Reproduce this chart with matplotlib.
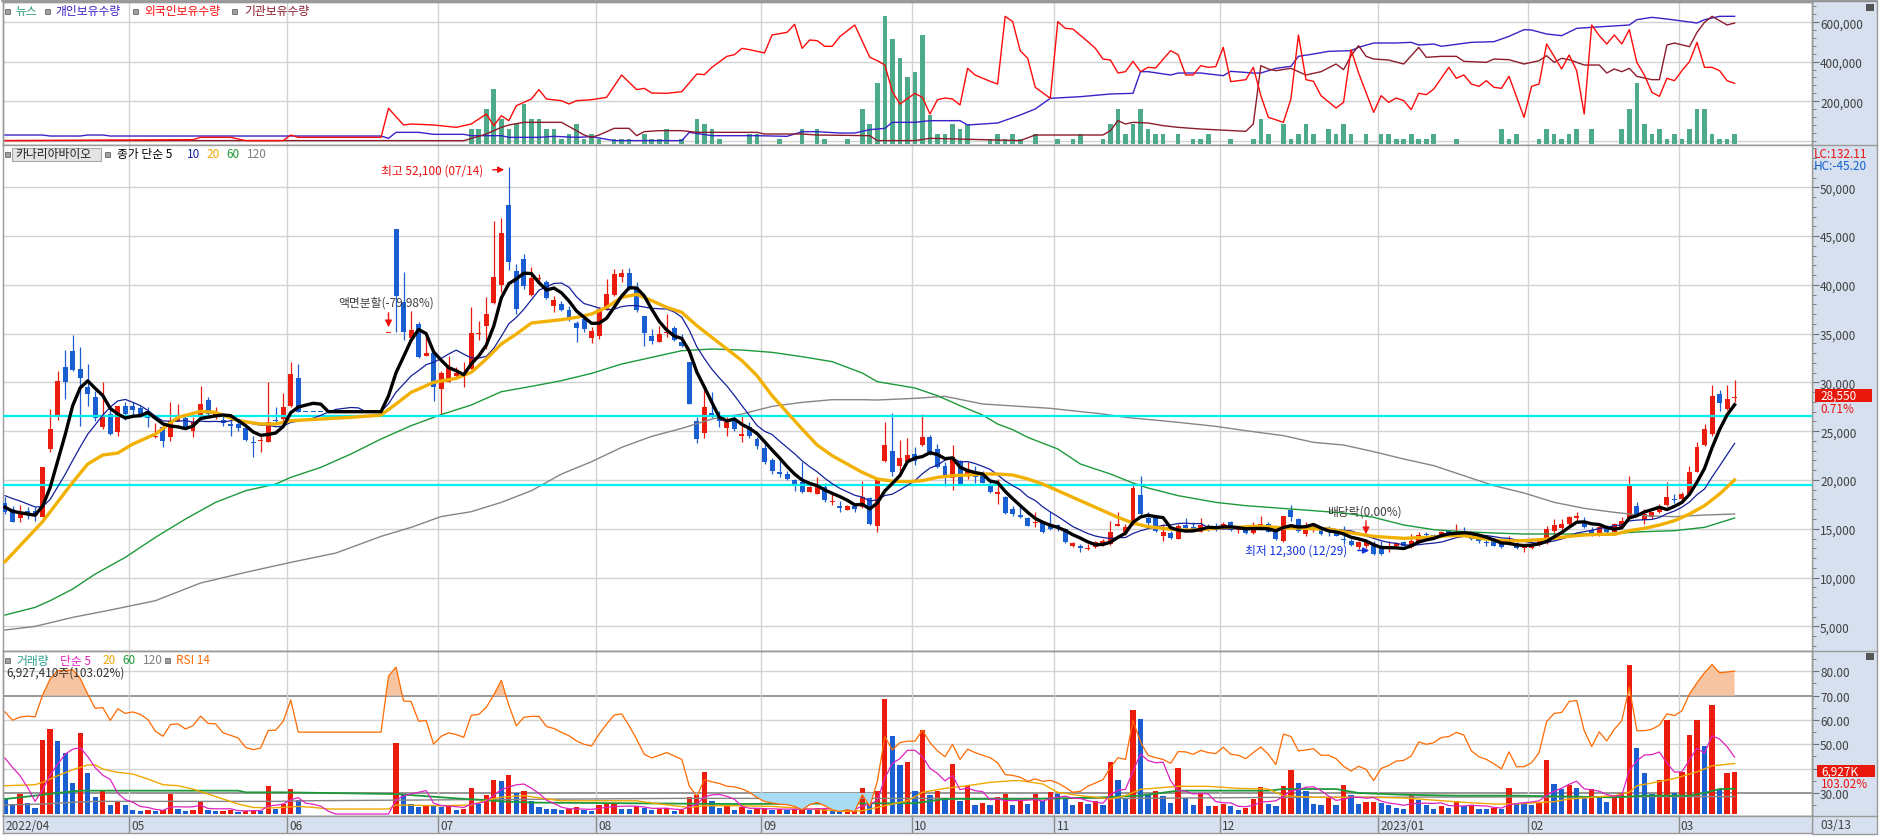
import numpy as np
import pandas as pd
import matplotlib
matplotlib.use("Agg")
import matplotlib.pyplot as plt
from matplotlib.patches import Rectangle, FancyArrowPatch
from matplotlib.ticker import FuncFormatter, MultipleLocator
from matplotlib.transforms import blended_transform_factory

plt.rcParams['font.family'] = ['Noto Sans CJK KR', 'DejaVu Sans']

# ---------------------------------------------------------------
# 카나리아바이오 일봉 2022/04 ~ 2023/03/13 (한 줄 = 10거래일)
# 40~50번째 봉은 매매정지 구간 (직전 종가 유지)
opens = [
    17640, 17020, 16070, 16850, 16850, 16170, 23170, 26420, 31550, 33250,
    31370, 29560, 28470, 25400, 26760, 24950, 27550, 27620, 27380, 27030,
    24370, 25400, 24370, 26080, 26320, 25050, 26690, 28230, 26590, 26180,
    25740, 25740, 25290, 23920, 23990, 23920, 26180, 26250, 27620, 30420,
    27000, 27000, 27000, 27000, 27000, 27000, 27000, 27000, 27000, 27000,
    27000, 35100, 45720, 38210, 34520, 35990, 32670, 33010, 29330, 30080,
    30690, 30690, 31370, 35000, 35820, 38140, 39980, 48190, 41390, 42650,
    38960, 40600, 40330, 37860, 38040, 37460, 36090, 36500, 34520, 34790,
    37520, 38960, 40770, 41220, 39740, 36840, 34720, 34180, 35100, 35540,
    34180, 32120, 26080, 24810, 26830, 26490, 25290, 26080, 24470, 25400,
    24200, 23240, 22050, 20850, 20610, 19990, 19760, 18800, 18560, 19240,
    17770, 17360, 16950, 17360, 17190, 18120, 15310, 21980, 23000, 21470,
    21880, 22660, 23590, 24370, 23180, 21470, 20170, 21910, 20370, 20780,
    20510, 19520, 18560, 18220, 17020, 16410, 16100, 15620, 15660, 15490,
    15380, 14970, 13200, 13270, 12990, 13100, 13440, 13440, 15320, 14700,
    15490, 18460, 16070, 16070, 14290, 14530, 13950, 15380, 15150, 14700,
    15150, 15150, 15150, 15660, 14910, 15150, 14560, 15040, 15490, 14800,
    13780, 16960, 16000, 14460, 14910, 14910, 14800, 14700, 13920, 13710,
    13100, 13270, 13440, 13100, 12920, 13200, 13680, 13100, 13610, 14410,
    14360, 14220, 14700, 14460, 14800, 14630, 13850, 13610, 13780, 13440,
    13440, 13540, 12990, 12990, 13330, 13540, 14800, 15040, 15490, 16070,
    15830, 14870, 14290, 15150, 14700, 15150, 16070, 17370, 15930, 16170,
    16680, 17430, 18050, 18050, 18560, 20850, 23590, 24710, 28810, 27280,
    28440,
]
highs = [
    18220, 17360, 17430, 17190, 17190, 21290, 27270, 31200, 33320, 34860,
    33600, 31890, 29150, 30010, 27620, 27550, 27960, 27960, 27620, 27450,
    25840, 25740, 28030, 27790, 26590, 26420, 29670, 28470, 27450, 26760,
    26760, 26250, 25740, 24470, 24470, 30010, 27450, 28910, 32120, 31890,
    27000, 27000, 27000, 27000, 27000, 27000, 27000, 27000, 27000, 27000,
    27000, 35100, 45720, 41280, 37350, 36160, 34960, 33010, 31200, 32670,
    31550, 32060, 37700, 36330, 38720, 46580, 46820, 52100, 42140, 43160,
    41800, 41110, 40500, 38820, 38380, 37870, 36330, 36670, 35640, 37690,
    40600, 41620, 41620, 41730, 40260, 36840, 35470, 35820, 37010, 35740,
    34960, 32120, 26420, 29600, 28980, 27100, 26420, 26490, 26590, 25970,
    24370, 23860, 22220, 22320, 20950, 20100, 21870, 19410, 20270, 19680,
    18730, 17870, 17430, 17600, 19930, 18220, 20170, 25980, 26870, 24130,
    24270, 23350, 26760, 24610, 23690, 21810, 23590, 22080, 21880, 21470,
    20950, 20100, 20100, 18320, 17370, 17300, 16240, 16750, 15830, 16680,
    15490, 15040, 13610, 13440, 13440, 13780, 13950, 15830, 16750, 15490,
    19690, 20440, 16680, 16340, 15490, 14800, 15490, 16070, 15730, 16070,
    15490, 15590, 15660, 15830, 15250, 15380, 15730, 16340, 15660, 15150,
    16340, 17430, 16070, 15660, 15380, 15250, 15320, 14970, 15320, 13950,
    13780, 13780, 13780, 13780, 13780, 13680, 13780, 14460, 14700, 14630,
    14460, 14800, 14800, 15490, 15150, 14700, 14020, 13880, 13950, 13540,
    14290, 13680, 13270, 13540, 13950, 15320, 16000, 16000, 16270, 16750,
    16170, 15150, 15320, 15380, 15590, 16170, 20370, 17780, 17020, 16680,
    17540, 19830, 18560, 18730, 21470, 23860, 25740, 29740, 29260, 29740,
    30280,
]
lows = [
    16510, 15660, 15660, 16000, 15830, 16170, 22900, 26180, 28300, 31210,
    25500, 27620, 26080, 25220, 24610, 24540, 26180, 26590, 26420, 25400,
    24270, 23340, 24030, 26080, 25220, 24370, 26590, 26590, 26250, 25570,
    24470, 25050, 24030, 22320, 22900, 23920, 25970, 25970, 27450, 26930,
    27000, 27000, 27000, 27000, 27000, 27000, 27000, 27000, 27000, 27000,
    27000, 35100, 35130, 34380, 34520, 32470, 32670, 28130, 26760, 30010,
    30350, 29500, 31370, 34380, 33420, 38040, 39230, 41560, 37010, 39570,
    38890, 40260, 38550, 37180, 37350, 36330, 34110, 35130, 34040, 34450,
    37450, 38890, 40260, 39500, 37250, 33700, 33940, 34110, 34620, 34280,
    33600, 27790, 23790, 24270, 26320, 25400, 24470, 25050, 23860, 24270,
    23170, 21640, 20610, 20270, 20030, 18900, 18630, 18730, 18560, 17770,
    17430, 16750, 16950, 16750, 17090, 15380, 14700, 21880, 20440, 20440,
    21810, 21570, 23450, 22560, 21190, 19420, 19010, 19480, 20100, 19690,
    19690, 18670, 17540, 16510, 16340, 16070, 15250, 15150, 14560, 14910,
    14800, 13540, 13100, 12580, 12860, 12990, 13200, 13330, 15250, 14360,
    15380, 16410, 15380, 14700, 13780, 13950, 13950, 14910, 14800, 14630,
    14800, 14800, 14970, 14800, 14560, 14460, 14460, 14910, 14630, 13880,
    13610, 15830, 14700, 14290, 14700, 14360, 14220, 14220, 13440, 13200,
    12920, 12990, 12300, 12310, 12650, 13100, 13200, 12990, 13540, 14020,
    14220, 14120, 14460, 14360, 14560, 13880, 13540, 13270, 13200, 12990,
    13330, 12920, 12580, 12920, 13270, 13440, 14460, 14970, 15380, 15830,
    15040, 14290, 14220, 14560, 14630, 15040, 16000, 16270, 15490, 16000,
    16610, 17370, 17640, 17880, 18460, 20780, 23520, 24540, 27110, 27210,
    28030,
]
closes = [
    16680, 15660, 16680, 16510, 16410, 21290, 25220, 30180, 30080, 31310,
    30420, 28810, 26320, 26420, 24710, 27550, 26760, 27200, 26760, 26320,
    24540, 23960, 26080, 26320, 25400, 25910, 27790, 26760, 27000, 25840,
    25570, 25290, 24130, 23790, 24130, 25970, 26080, 27450, 30860, 27000,
    27000, 27000, 27000, 27000, 27000, 27000, 27000, 27000, 27000, 27000,
    27000, 35100, 38890, 35200, 35370, 32570, 33010, 29500, 30960, 31550,
    30960, 30960, 35060, 35060, 37010, 40840, 45320, 42380, 37520, 39920,
    40670, 40670, 38620, 38480, 37460, 36500, 35540, 35470, 35300, 37520,
    39060, 41110, 41220, 39570, 37420, 35030, 34280, 34960, 35130, 34380,
    33770, 27790, 24200, 27510, 26490, 26080, 25970, 25220, 24710, 24470,
    23450, 21810, 20950, 20610, 20100, 19580, 18730, 19240, 19410, 17940,
    17840, 17090, 17360, 17020, 18220, 15490, 20100, 23580, 20850, 22250,
    22560, 21980, 24370, 22830, 21300, 20440, 22390, 19590, 21130, 20270,
    19690, 18800, 18800, 16610, 16510, 16170, 15320, 15660, 14700, 14970,
    15040, 13680, 13540, 12990, 13030, 13610, 13780, 14700, 15490, 15150,
    19180, 16510, 15590, 14800, 14630, 14020, 15320, 15040, 14910, 15380,
    15110, 15110, 15450, 14910, 14970, 14530, 15250, 15490, 14700, 13950,
    16270, 16170, 14800, 14910, 15040, 14460, 14700, 14290, 13850, 13370,
    13610, 13610, 12410, 12410, 13270, 13510, 13270, 13780, 14360, 14360,
    14290, 14700, 14630, 14700, 14630, 13950, 13850, 13540, 13270, 13100,
    13780, 12990, 13270, 13440, 13780, 14970, 15380, 15490, 16170, 16340,
    15150, 14360, 15150, 14630, 15490, 15830, 19420, 16340, 16510, 16680,
    17090, 18220, 17980, 18560, 20780, 23350, 25230, 28570, 27860, 28350,
    28550,
]
# closes before the first visible day (estimated from the MA5/MA10 start levels)
pre_close = [18600, 19200, 19600, 19400, 21000, 17800, 17400, 17200, 17000]

# volume in millions of shares
volume = [
    2.66, 1.66, 3.32, 1.83, 1.0, 12.3, 14.1, 12.1, 10.2, 5.15,
    13.5, 6.8, 2.8, 4.0, 1.55, 2.05, 1.5, 0.66, 0.5, 0.72,
    0.5, 0.66, 3.32, 0.83, 0.5, 0.66, 2.0, 0.66, 0.5, 0.53,
    0.66, 0.39, 0.55, 0.66, 0.55, 4.65, 0.83, 1.66, 4.15, 2.33,
    0, 0, 0, 0, 0, 0, 0, 0, 0, 0,
    0, 0, 11.8, 3.32, 1.66, 1.22, 1.5, 1.38, 1.22, 1.27,
    0.72, 0.83, 4.32, 1.66, 3.16, 5.65, 5.48, 6.48, 3.49, 3.82,
    2.16, 1.22, 0.83, 0.8, 0.66, 0.83, 1.16, 0.66, 0.55, 1.55,
    1.6, 1.83, 0.83, 0.8, 1.38, 1.05, 0.66, 0.83, 0.94, 0.55,
    0.66, 2.9, 3.1, 7.03, 2.2, 1.0, 1.38, 0.66, 1.1, 0.66,
    0.94, 1.0, 0.66, 0.83, 0.66, 0.83, 1.1, 0.66, 0.94, 1.05,
    0.66, 0.5, 0.61, 0.72, 4.26, 1.83, 3.88, 19.1, 13.0, 8.2,
    8.7, 3.88, 14.0, 3.2, 3.88, 2.6, 8.3, 2.2, 4.7, 1.55,
    1.88, 1.5, 2.88, 3.32, 1.55, 2.1, 1.66, 3.32, 2.1, 3.6,
    3.32, 2.49, 1.55, 1.94, 1.72, 2.2, 1.55, 8.6, 5.65, 2.49,
    17.3, 15.8, 3.16, 3.82, 3.0, 1.83, 7.64, 2.66, 1.5, 3.49,
    1.33, 1.35, 1.72, 1.33, 0.66, 1.0, 2.49, 4.49, 1.66, 1.33,
    4.65, 7.3, 5.15, 3.82, 1.66, 1.5, 2.82, 1.5, 4.8, 3.16,
    1.66, 2.0, 2.05, 1.83, 1.5, 1.0, 0.83, 3.32, 2.33, 1.5,
    0.83, 1.33, 1.0, 2.16, 1.33, 1.5, 0.83, 0.8, 1.0, 0.83,
    4.32, 1.66, 1.6, 1.55, 1.83, 8.97, 4.98, 4.15, 4.8, 4.32,
    2.66, 4.15, 3.0, 2.0, 3.0, 3.49, 24.75, 10.96, 6.8, 3.32,
    5.65, 15.6, 3.49, 6.98, 13.1, 15.6, 11.3, 18.1, 4.15, 6.8,
    6.927,
]
pre_volume = [9.4, 10.2, 11.5, 12.7]

rsi14 = [
    63.3, 59.9, 61.2, 61.6, 61.3, 70.2, 76.8, 80.3, 80.3, 80.7,
    77.1, 70.6, 64.8, 65.1, 59.8, 64.6, 62.7, 63.3, 62.3, 60.2,
    55.4, 53.3, 58.1, 58.4, 56.3, 57.7, 61.6, 58.6, 58.4, 54.7,
    53.7, 52.6, 48.7, 47.8, 48.5, 55.7, 55.8, 59.5, 68.2, 55.0,
    55.0, 55.0, 55.0, 55.0, 55.0, 55.0, 55.0, 55.0, 55.0, 55.0,
    55.0, 78.0, 81.7, 67.8, 67.6, 59.5, 59.8, 50.1, 53.3, 54.7,
    54.0, 52.9, 61.9, 62.3, 65.2, 70.3, 76.3, 66.0, 57.6, 61.1,
    61.5, 61.5, 57.3, 56.5, 54.9, 53.5, 51.4, 50.0, 49.3, 54.2,
    58.3, 62.0, 62.5, 57.6, 52.1, 45.9, 44.4, 45.5, 46.6, 45.2,
    43.8, 32.8, 28.7, 35.5, 34.6, 33.9, 32.8, 32.5, 31.7, 30.3,
    28.2, 26.5, 25.9, 25.4, 25.2, 24.5, 23.1, 25.2, 26.1, 24.8,
    23.1, 22.4, 23.1, 22.4, 29.3, 24.5, 34.8, 53.2, 47.7, 50.7,
    51.3, 51.3, 55.8, 50.7, 47.3, 44.9, 50.0, 43.8, 48.0, 46.6,
    45.5, 44.5, 42.4, 37.6, 37.2, 36.5, 34.8, 35.8, 34.8, 35.2,
    34.1, 32.3, 30.3, 30.7, 32.8, 34.1, 35.5, 40.4, 44.5, 43.8,
    59.7, 51.0, 45.5, 44.5, 43.8, 42.2, 47.0, 46.9, 45.9, 47.5,
    46.6, 46.2, 48.8, 45.9, 45.5, 44.1, 46.6, 48.9, 45.9, 41.7,
    54.2, 53.2, 47.3, 47.7, 48.2, 45.5, 45.5, 44.1, 41.0, 39.0,
    41.0, 39.7, 35.1, 40.1, 41.3, 43.1, 43.4, 45.2, 51.0, 50.0,
    50.7, 52.8, 53.2, 54.9, 53.8, 47.3, 44.9, 43.8, 42.0, 39.9,
    46.9, 40.8, 40.8, 42.4, 46.6, 59.3, 62.7, 63.1, 67.6, 68.0,
    55.6, 49.1, 55.1, 51.4, 56.2, 59.7, 73.5, 55.6, 55.6, 56.2,
    57.9, 62.5, 61.8, 63.8, 70.7, 75.3, 79.4, 82.8, 79.4, 79.7,
    80.1,
]

# longer price averages (bar index, price)
ma20_idx = [0, 5, 9, 11, 13, 15, 17, 20, 23, 26, 28, 31, 34, 36, 38, 42, 46, 50, 52, 54,
            57, 60, 62, 64, 66, 68, 70, 72, 74, 76, 78, 80, 82, 84, 86, 88, 90, 92, 94, 96,
            98, 100, 102, 104, 106, 108, 110, 112, 114, 116, 118, 120, 122, 124, 126, 128,
            130, 132, 134, 136, 138, 140, 142, 144, 146, 148, 150, 152, 154, 156, 158, 160,
            162, 164, 166, 168, 170, 172, 174, 176, 178, 180, 182, 184, 186, 188, 190, 192,
            194, 196, 198, 200, 202, 204, 206, 208, 210, 212, 214, 216, 218, 220, 222, 224,
            226, 228, 230]
ma20_val = [11625, 15725, 19756, 21635, 22557, 22762, 23685, 24710, 26418, 27034, 26931,
            26077, 25736, 25736, 26077, 26248, 26418, 26657, 27785, 28980, 30007, 30416,
            31031, 32399, 33936, 34961, 36089, 36260, 36431, 36670, 37012, 37695, 38720,
            39028, 38379, 37695, 37183, 35816, 34620, 33424, 32228, 30690, 28640, 26931,
            25222, 23582, 22489, 21635, 20780, 20097, 19880, 19826, 19929, 20270, 20441,
            20510, 20612, 20612, 20510, 20100, 19587, 18904, 18220, 17537, 16853, 16170,
            15589, 15213, 15042, 14871, 14871, 14974, 15145, 15145, 15247, 15213, 15076,
            15076, 15000, 14974, 14700, 14461, 14222, 14120, 14017, 14085, 14153, 14290,
            14290, 14051, 13847, 13744, 13779, 13881, 14017, 14222, 14358, 14427, 14427,
            14803, 15042, 15384, 15828, 16511, 17366, 18562, 19997]
ma60_idx = [0, 4, 6, 9, 12, 16, 20, 24, 28, 32, 36, 38, 42, 46, 50, 54, 58, 62, 66, 70,
            74, 78, 82, 86, 90, 94, 98, 102, 106, 110, 114, 116, 121, 124, 127, 130, 132,
            134, 136, 140, 143, 147, 150, 152, 156, 161, 165, 174, 178, 182, 186, 190, 194,
            198, 202, 206, 210, 214, 218, 222, 226, 230]
ma60_val = [6157, 6942, 7625, 8822, 10359, 12068, 14118, 15997, 17705, 18901, 19585, 20268,
            21293, 22660, 24198, 25565, 26700, 27683, 29049, 29596, 30177, 30929, 31886,
            32569, 33253, 33424, 33321, 33082, 32638, 32125, 30963, 30077, 29428, 28642,
            27617, 26660, 25737, 25157, 24371, 23175, 21637, 20612, 19689, 19177, 18391,
            17708, 17366, 16854, 16614, 16170, 15384, 14906, 14700, 14564, 14461, 14461,
            14461, 14530, 14700, 14803, 15145, 16102]
ma120_idx = [0, 4, 9, 14, 20, 26, 32, 38, 44, 50, 54, 58, 62, 66, 70, 74, 78, 82, 86, 90,
             94, 98, 102, 106, 110, 114, 116, 121, 125, 130, 139, 146, 149, 156, 161, 165,
             170, 174, 178, 182, 186, 190, 194, 198, 202, 206, 210, 214, 218, 222, 226, 230]
ma120_val = [4619, 4994, 5917, 6668, 7625, 9436, 10530, 11555, 12511, 14220, 15143, 16250,
             16750, 17705, 18901, 20610, 21874, 23344, 24471, 25291, 26248, 26760, 27546,
             27956, 28230, 28230, 28198, 28369, 28574, 27788, 27344, 26763, 26422, 25909,
             25499, 25054, 24542, 23858, 23585, 22902, 22150, 21467, 20441, 19416, 18665,
             17708, 17093, 16683, 16341, 16238, 16409, 16512]

# volume averages (bar index, millions)
vma20_idx = [0, 4, 5, 7, 9, 11, 12, 13, 15, 17, 19, 21, 23, 25, 27, 29, 31, 33, 35, 37,
             39, 41, 43, 51, 52, 58, 62, 64, 66, 69, 72, 74, 84, 86, 89, 91, 93, 97, 102,
             106, 109, 112, 114, 117, 120, 122, 125, 128, 131, 134, 135, 138, 140, 143, 147,
             149, 151, 156, 160, 164, 168, 170, 174, 182, 186, 189, 194, 198, 201, 203, 206,
             208, 211, 214, 216, 217, 219, 222, 225, 227, 230]
vma20_val = [4.7, 4.87, 5.26, 6.37, 7.36, 8.14, 8.14, 7.47, 6.92, 6.64, 5.81, 4.87, 4.7,
             4.15, 3.32, 2.49, 1.66, 1.1, 1.0, 1.1, 1.27, 1.1, 0.83, 0.83, 1.5, 1.38, 1.5,
             2.3, 2.8, 3.05, 2.5, 2.2, 2.2, 1.83, 1.38, 1.1, 1.38, 1.38, 1.27, 0.94, 0.66,
             0.44, 0.55, 1.38, 2.2, 3.6, 4.26, 4.7, 5.26, 5.54, 5.54, 4.98, 3.6, 3.05, 2.5,
             3.05, 4.1, 4.6, 4.6, 4.26, 4.15, 3.05, 2.77, 2.77, 2.66, 2.4, 1.94, 1.66, 1.66,
             1.83, 2.05, 2.5, 2.77, 3.05, 3.6, 4.7, 5.15, 5.9, 7.0, 8.0, 8.4]
vma60_idx = [0, 4, 7, 10, 31, 32, 37, 52, 55, 60, 64, 66, 70, 97, 121, 125, 137, 146, 151,
             156, 168, 170, 177, 180, 186, 193, 201, 208, 214, 218, 224, 226, 228, 230]
vma60_val = [2.49, 3.05, 3.49, 3.88, 3.88, 3.6, 3.6, 3.32, 3.05, 2.6, 2.3, 2.1, 1.9, 1.66,
             1.8, 2.5, 2.5, 2.77, 3.05, 3.88, 3.88, 4.15, 4.15, 3.49, 3.2, 3.05, 3.05, 2.9,
             2.77, 3.05, 3.05, 3.49, 4.15, 4.2]
vma120_idx = [0, 5, 9, 12, 36, 40, 64, 90, 150, 170, 230]
vma120_val = [1.5, 1.66, 1.94, 2.1, 2.1, 2.2, 2.4, 2.6, 2.6, 2.77, 2.9]

# top pane: news count per day and holdings (thousand shares)
news_idx = [62, 63, 64, 65, 66, 67, 68, 69, 70, 71, 72, 73, 74, 75, 76, 77, 78, 79, 81, 82,
            83, 85, 86, 87, 88, 90, 92, 93, 94, 95, 99, 100, 103, 106, 108, 109, 112, 114,
            115, 116, 117, 118, 119, 120, 121, 122, 123, 124, 125, 126, 127, 128, 131, 132,
            133, 134, 135, 137, 140, 142, 143, 146, 147, 148, 149, 150, 151, 152, 153, 154,
            156, 158, 159, 160, 163, 166, 167, 168, 170, 171, 172, 173, 174, 176, 177, 178,
            179, 181, 183, 184, 185, 186, 187, 188, 189, 190, 193, 199, 200, 201, 204, 205,
            206, 207, 208, 209, 211, 215, 216, 217, 218, 219, 220, 221, 222, 223, 224, 225,
            226, 227, 228, 229, 230]
news_cnt = [3, 3, 7, 11, 5, 3, 4, 8, 5, 5, 3, 3, 1, 2, 4, 1, 2, 1, 1, 1,
            1, 2, 1, 1, 3, 1, 5, 4, 3, 1, 2, 2, 1, 3, 3, 1, 1, 7,
            4, 12.3, 25.7, 21, 17.2, 13.5, 14.5, 21.8, 5.8, 2, 2, 4, 3, 4, 1, 2,
            1, 2, 1, 2, 1, 1, 2, 1, 4, 7, 2, 4, 7, 3, 2, 2,
            2, 1, 1, 2, 1, 1, 5, 2, 4, 1, 2, 4, 2, 3, 2, 4,
            2, 2, 2, 2, 1, 1, 2, 1, 1, 2, 1, 3, 1, 2, 1, 3,
            2, 1, 2, 3, 3, 3, 7, 12.3, 4, 2, 3, 1, 2, 1, 3,
            7, 7, 2, 1, 1, 2]

indiv_idx = [0, 5, 6, 10, 11, 13, 14, 50, 51, 52, 55, 57, 61, 62, 66, 67, 71, 73, 76, 78,
             81, 90, 91, 94, 100, 104, 106, 108, 111, 113, 115, 117, 118, 121, 123, 127, 128,
             132, 135, 137, 139, 143, 147, 150, 151, 152, 155, 156, 159, 162, 163, 166, 167,
             169, 171, 172, 174, 176, 179, 180, 182, 185, 187, 188, 190, 191, 195, 198, 200,
             202, 203, 205, 207, 209, 211, 216, 217, 219, 221, 225, 226, 228, 230]
indiv_val = [28.8, 28.8, 23.7, 23.7, 28.8, 28.8, 23.7, 23.7, 12.0, 42.3, 42.3, 32.2, 32.2,
             25.4, 25.4, 17.0, 17.0, 22.1, 17.0, 20.4, 0.5, 0.5, 42.3, 25.4, 25.4, 22.1, 45.7,
             45.7, 38.9, 38.9, 55.9, 62.6, 93.0, 93.0, 101.4, 101.4, 79.5, 89.6, 130.1, 160.5,
             214.5, 222.9, 236.4, 239.8, 349.5, 349.5, 332.6, 342.7, 342.7, 329.2, 351.2,
             342.7, 342.7, 366.4, 376.5, 427.1, 438.9, 452.4, 455.8, 472.7, 494.6, 494.6,
             498.0, 484.5, 489.6, 477.8, 498.0, 501.4, 528.4, 562.1, 560.4, 540.2, 531.8,
             568.9, 573.9, 585.8, 612.8, 624.6, 616.2, 595.9, 612.8, 629.7, 629.7]
foreign_idx = [0, 25, 26, 30, 32, 37, 38, 39, 50, 51, 53, 54, 57, 60, 62, 64, 65, 66, 67, 68,
               70, 71, 72, 74, 75, 76, 78, 80, 82, 84, 85, 86, 88, 90, 92, 93, 94, 96, 97, 98,
               99, 101, 102, 104, 105, 106, 107, 108, 109, 110, 111, 113, 115, 116, 117, 118,
               119, 121, 122, 123, 124, 125, 126, 127, 128, 129, 131, 132, 133, 134, 135, 136,
               137, 139, 140, 141, 142, 144, 145, 146, 147, 148, 149, 150, 151, 152, 153, 155,
               156, 157, 158, 159, 160, 161, 162, 163, 165, 166, 167, 168, 170, 171, 172, 173,
               174, 175, 177, 178, 179, 180, 182, 183, 184, 185, 186, 187, 188, 189, 190, 192,
               193, 194, 195, 196, 197, 198, 199, 200, 202, 203, 204, 205, 206, 207, 208, 209,
               210, 211, 212, 213, 214, 215, 216, 217, 218, 219, 220, 221, 222, 223, 224, 225,
               226, 227, 228, 229, 230]
foreign_val = [0.5, 5.2, 17.0, 17.0, 0.5, 0.5, 28.8, 17.0, 17.0, 163.8, 79.5, 84.5, 79.5,
               67.6, 84.5, 135.1, 76.1, 126.7, 101.4, 177.3, 211.1, 258.3, 211.1, 202.6,
               185.8, 202.6, 207.7, 219.5, 332.6, 258.4, 265.1, 241.5, 239.8, 248.2, 337.7,
               334.3, 371.4, 427.1, 435.6, 467.6, 460.9, 444.0, 535.2, 548.7, 589.2, 467.6,
               509.8, 506.5, 477.8, 477.8, 526.7, 585.8, 422.1, 405.2, 383.3, 248.2, 185.8,
               239.8, 219.5, 135.2, 207.7, 216.2, 211.1, 180.8, 366.4, 332.6, 300.6, 287.1,
               629.7, 602.7, 455.8, 417.0, 270.2, 214.5, 602.7, 568.9, 565.5, 501.4, 467.6,
               413.6, 408.6, 342.8, 349.5, 401.8, 349.5, 371.4, 368.0, 455.8, 435.6, 332.6,
               332.6, 379.9, 371.4, 374.8, 472.7, 298.9, 309.0, 371.4, 228.0, 118.3, 93.0,
               211.1, 535.2, 309.0, 300.6, 228.0, 165.5, 194.2, 460.9, 342.8, 143.6, 228.0,
               194.2, 216.2, 202.7, 157.1, 239.8, 233.1, 261.7, 371.4, 315.8, 332.6, 287.1,
               275.2, 303.9, 270.2, 265.1, 325.9, 118.3, 275.2, 287.1, 489.6, 427.1, 363.0,
               433.9, 354.6, 135.2, 585.8, 531.8, 489.6, 535.2, 489.6, 562.2, 396.8, 332.6,
               244.9, 224.6, 315.8, 303.9, 354.6, 400.1, 498.0, 371.4, 371.4, 354.6, 303.9,
               290.4]
inst_idx = [0, 50, 61, 64, 66, 67, 69, 74, 76, 77, 78, 79, 81, 83, 84, 85, 87, 90, 92, 100,
            101, 106, 108, 115, 116, 121, 123, 135, 137, 146, 147, 148, 149, 150, 152, 154,
            156, 159, 165, 166, 167, 168, 169, 171, 172, 173, 175, 177, 178, 179, 180, 181,
            182, 184, 186, 188, 189, 191, 193, 194, 197, 198, 200, 202, 204, 205, 206, 207,
            208, 210, 212, 213, 214, 215, 216, 217, 219, 220, 221, 222, 224, 225, 226, 227,
            229, 230]
inst_val = [0.5, 0.5, 0.0, 33.9, 67.6, 79.5, 93.0, 93.0, 50.8, 28.8, 17.0, 28.8, 62.6, 62.6,
            25.4, 45.7, 50.8, 50.8, 42.3, 42.3, 33.9, 33.9, 28.8, 25.4, 0.5, 0.5, 12.0, 0.5,
            28.8, 28.8, 50.8, 101.4, 84.5, 93.0, 89.6, 76.1, 67.6, 59.2, 47.4, 84.5, 379.9,
            363.0, 354.5, 366.4, 349.5, 332.6, 349.5, 388.3, 359.6, 430.5, 481.1, 427.1,
            413.6, 408.5, 388.3, 472.7, 422.1, 427.1, 427.1, 401.8, 396.7, 413.6, 410.2,
            388.3, 405.2, 430.5, 396.7, 417.0, 410.2, 383.2, 383.2, 342.7, 363.0, 349.5,
            366.4, 325.8, 309.0, 309.0, 484.5, 494.6, 476.1, 548.6, 599.3, 629.7, 585.8,
            595.9]

month_labels = ['2022/04', '05', '06', '07', '08', '09', '10', '11', '12', '2023/01', '02', '03']
month_first_bar = [0, 17, 38, 58, 79, 101, 121, 140, 162, 183, 203, 223]
last_date = '03/13'

# ---------------------------------------------------------------
W, H, DPI = 1879, 837, 100
RED, BLUE = '#ec1c0c', '#1a5fd2'
GRID = '#d2d2d2'
STRIP = '#d6e0ee'

n = len(closes)
x = np.arange(n)
o, h, l, c = (np.array(v, dtype=float) for v in (opens, highs, lows, closes))
vol = np.array(volume)
rsi = np.array(rsi14)

close_s = pd.Series(pre_close + closes, dtype=float)
ma5 = close_s.rolling(5).mean().to_numpy()[len(pre_close):]
ma10 = close_s.rolling(10).mean().to_numpy()[len(pre_close):]
vol_s = pd.Series(pre_volume + volume, dtype=float)
vma5 = vol_s.rolling(5).mean().to_numpy()[len(pre_volume):]

fig = plt.figure(figsize=(W / DPI, H / DPI), dpi=DPI)
fig.patch.set_facecolor('white')


def rect(x0, y0, x1, y1):
    return [x0 / W, 1 - y1 / H, (x1 - x0) / W, (y1 - y0) / H]


def fx(px):
    return px / W


def fy(py):
    return 1 - py / H


L, R = 3, 1812
XL, XR = (L - 5) / 7.52, (R - 5) / 7.52
grid_x = [b - 0.45 for b in month_first_bar[1:]]

ax_news = fig.add_axes(rect(L, 3, R, 146))
ax_top = fig.add_axes(rect(L, 3, R, 146))
ax_main = fig.add_axes(rect(L, 146, R, 652))
ax_vol = fig.add_axes(rect(L, 652, R, 817))
ax_rsi = fig.add_axes(rect(L, 652, R, 817))
ax_x = fig.add_axes(rect(L, 817, R, 834))

for ax in (ax_top, ax_rsi):
    ax.patch.set_alpha(0)
for ax in (ax_news, ax_top, ax_main, ax_vol, ax_rsi, ax_x):
    ax.set_xlim(XL, XR)
    ax.tick_params(axis='x', bottom=False, labelbottom=False)
    for s in ax.spines.values():
        s.set_color('#9a9a9a')
        s.set_linewidth(1)
for ax in (ax_news, ax_vol, ax_x):
    ax.tick_params(axis='y', left=False, labelleft=False)

ax_top.set_ylim(-21771, 702233)
ax_news.set_ylim(-0.2, 28.4)
ax_main.set_ylim(2470, 54336)
ax_rsi.set_ylim(20.55, 88.34)
ax_vol.set_ylim(-0.33, 27.08)

for ax in (ax_top, ax_main, ax_rsi):
    ax.tick_params(axis='y', which='both', left=False, labelleft=False, right=True,
                   labelright=True, direction='out', color='#707070', labelcolor='#404040',
                   labelsize=8.5, pad=1)
    ax.tick_params(axis='y', which='major', length=4.8)
    ax.tick_params(axis='y', which='minor', length=2.9)

ax_top.set_yticks([200000, 400000, 600000])
ax_top.yaxis.set_minor_locator(MultipleLocator(40000))
ax_top.yaxis.set_major_formatter(FuncFormatter(lambda v, _: f'{int(v):,}'))
ax_main.set_yticks(range(5000, 50001, 5000))
ax_main.yaxis.set_minor_locator(MultipleLocator(1000))
ax_main.yaxis.set_major_formatter(FuncFormatter(lambda v, _: f'{int(v):,}'))
ax_rsi.set_yticks([30, 40, 50, 60, 70, 80])
ax_rsi.yaxis.set_minor_locator(MultipleLocator(5))
ax_rsi.yaxis.set_major_formatter(FuncFormatter(lambda v, _: f'{v:.2f}'))


def hgrid(ax_draw, ax_scale, levels, **kw):
    tr = blended_transform_factory(ax_draw.transAxes, ax_scale.transData)
    for lv in levels:
        ax_draw.plot([0, 1], [lv, lv], transform=tr, **kw)


# ---- top pane: news + holdings
hgrid(ax_news, ax_top, [0, 200000, 400000, 600000], color=GRID, lw=1, zorder=0)
for gx in grid_x:
    ax_news.axvline(gx, color=GRID, lw=1, zorder=0)
ax_news.bar(news_idx, news_cnt, width=0.62, color='#4dab8a', lw=0, zorder=2)
ax_top.plot(indiv_idx, np.array(indiv_val) * 1000, color='#3a22c8', lw=1)
ax_top.plot(inst_idx, np.array(inst_val) * 1000, color='#8c1c2c', lw=1)
ax_top.plot(foreign_idx, np.array(foreign_val) * 1000, color='#ff0a0a', lw=1)

# ---- main pane: candles + averages
ax_main.grid(axis='y', color=GRID, lw=1)
ax_main.set_axisbelow(True)
for gx in grid_x:
    ax_main.axvline(gx, color=GRID, lw=1, zorder=0)

prev_c = np.r_[c[0], c[:-1]]
up = (c > o) | ((c == o) & (c > prev_c))
col = np.where(up, RED, BLUE)
body_h = np.abs(c - o)
body_lo = np.minimum(o, c)
small = body_h < 110
ax_main.vlines(x, l, h, colors=col, lw=0.9, zorder=3)
ax_main.bar(x, np.where(small, 110, body_h), bottom=np.where(small, (o + c) / 2 - 55, body_lo),
            width=0.66, color=col, lw=0, zorder=3)

ax_main.plot(ma120_idx, ma120_val, color='#858585', lw=1.0, zorder=4)
ax_main.plot(ma60_idx, ma60_val, color='#1c9a3a', lw=1.0, zorder=4)
ax_main.plot(x, ma10, color='#14209c', lw=0.9, zorder=5)
ax_main.plot(ma20_idx, ma20_val, color='#f2b000', lw=2.4, zorder=5)
ax_main.plot(x, ma5, color='black', lw=2.4, zorder=6)
for lv in (26590, 19520):
    ax_main.axhline(lv, color='#00eef0', lw=1.6, zorder=4)

# ---- bottom pane: volume + RSI
hgrid(ax_vol, ax_rsi, [40, 50, 60, 80], color=GRID, lw=1, zorder=0)
hgrid(ax_vol, ax_rsi, [30, 70], color='#858585', lw=1.2, zorder=0)
for gx in grid_x:
    ax_vol.axvline(gx, color=GRID, lw=1, zorder=0)
prev_v = np.r_[pre_volume[-1], vol[:-1]]
vcol = np.where(vol > prev_v, RED, BLUE)
ax_vol.bar(x, vol, width=0.7, color=vcol, lw=0, zorder=2)
ax_vol.plot(vma120_idx, vma120_val, color='#858585', lw=1.0, zorder=3)
ax_vol.plot(vma60_idx, vma60_val, color='#1c9a3a', lw=1.3, zorder=3)
ax_vol.plot(vma20_idx, vma20_val, color='#f0a800', lw=1.0, zorder=3)
ax_vol.plot(x, vma5, color='#dd22c0', lw=0.9, zorder=3)

ax_rsi.fill_between(x, rsi, 70, where=rsi > 70, interpolate=True, color='#f6c4a0', lw=0)
ax_rsi.fill_between(x, rsi, 30, where=rsi < 30, interpolate=True, color='#a8dcf2', lw=0)
ax_rsi.plot(x, rsi, color='#ff6a00', lw=0.9)

# ---- date strip
ax_x.set_facecolor(STRIP)
ax_x.set_ylim(0, 1)
for b, lab in zip(month_first_bar, month_labels):
    if b > 0:
        ax_x.axvline(b - 0.45, color='#8a8a8a', lw=1)
    ax_x.text(max(b - 0.45, XL) + 0.3, 0.45, lab, va='center', ha='left', fontsize=8.5,
              color='#404040')

# ---- right strip and frame
fig.add_artist(Rectangle((fx(R), fy(835)), fx(1877 - R), (835 - 2) / H, transform=fig.transFigure,
                         facecolor=STRIP, edgecolor='#9a9a9a', lw=1, zorder=-1))
for yy in (146, 652, 817):
    fig.add_artist(plt.Line2D([fx(R), fx(1877)], [fy(yy), fy(yy)], color='#9a9a9a', lw=1))
fig.add_artist(plt.Line2D([fx(2), fx(1877)], [fy(2), fy(2)], color='#8a8a8a', lw=1.2))
for yy in (5, 654):
    fig.add_artist(Rectangle((fx(1866), fy(yy + 7)), fx(8), 7 / H, transform=fig.transFigure,
                             facecolor='#555555', edgecolor='none', zorder=5))
fig.text(fx(1820), fy(825.5), last_date, fontsize=8.5, color='#404040', va='center')


def ftext(px, py, s, **kw):
    kw.setdefault('fontsize', 8.5)
    fig.text(fx(px), fy(py), s, va='center', ha='left', **kw)


def square(px, py):
    fig.add_artist(Rectangle((fx(px - 2.5), fy(py + 2.5)), fx(5), 5 / H, transform=fig.transFigure,
                             facecolor='#a0a0a0', edgecolor='#6a6a6a', lw=0.6, zorder=6))


# legends
square(7, 12)
ftext(15, 12, '뉴스', color='#2e9e78')
square(47, 12)
ftext(55.5, 12, '개인보유수량', color='#3a22c8')
square(135, 12)
ftext(144.7, 12, '외국인보유수량', color='#ff0a0a')
square(234, 12)
ftext(243.8, 12, '기관보유수량', color='#8c1c2c')

square(7, 155)
fig.add_artist(Rectangle((fx(12.3), fy(161.5)), fx(88.7), 13 / H, transform=fig.transFigure,
                         facecolor='#e4e4e4', edgecolor='#a8a8a8', lw=0.8, zorder=6))
ftext(15.7, 155, '카나리아바이오', color='#202020', zorder=7)
square(107, 155)
ftext(116.7, 155, '종가 단순 5', color='black')
ftext(187.3, 155, '10', color='#14209c')
ftext(206.7, 155, '20', color='#f0a800')
ftext(226.7, 155, '60', color='#1c9a3a')
ftext(247.3, 155, '120', color='#808080')

square(7.3, 661)
ftext(16, 661, '거래량', color='#2a9d8f')
ftext(60, 661, '단순 5', color='#dd22c0')
ftext(102.3, 661, '20', color='#f0a800')
ftext(122.3, 661, '60', color='#1c9a3a')
ftext(143.3, 661, '120', color='#808080')
square(167.3, 661)
ftext(176, 661, 'RSI 14', color='#ff6a00')
ftext(6.7, 673.5, f'{int(round(volume[-1] * 1e6)):,}주(103.02%)'.replace('6,927,000', '6,927,410'),
      color='#303030')

# right-side value boxes
ftext(1814, 154, 'LC:132.11', color='#ee1010')
ftext(1814, 166, 'HC:-45.20', color='#1060d0')
fig.add_artist(Rectangle((fx(1815), fy(403)), fx(57), 13 / H, transform=fig.transFigure,
                         facecolor='#e8180c', edgecolor='none', zorder=8))
ftext(1820, 396.5, f'{closes[-1]:,}', color='white', zorder=9)
ftext(1820, 409.5, f'{(closes[-1] / closes[-2] - 1) * 100:.2f}%', color='#ee1010', zorder=9)
fig.add_artist(Rectangle((fx(1817), fy(778)), fx(58), 12 / H, transform=fig.transFigure,
                         facecolor='#e8180c', edgecolor='none', zorder=8))
ftext(1821, 772, f'{volume[-1]:,.3f}K'.replace('.', ','), color='white', zorder=9)
ftext(1821, 785, '103.02%', color='#ee1010', zorder=9)

# event marks
ftext(380.7, 170.7, '최고 52,100 (07/14)', color='#ee1010')
fig.add_artist(FancyArrowPatch((fx(490), fy(170.7)), (fx(507), fy(170.7)), transform=fig.transFigure,
                               arrowstyle='-|>', mutation_scale=9, color='#ee1010', lw=1, zorder=9))
ftext(338.3, 303.3, '액면분할(-79.98%)', color='#404040')
fig.add_artist(FancyArrowPatch((fx(388.5), fy(311)), (fx(388.5), fy(331)), transform=fig.transFigure,
                               arrowstyle='-|>', mutation_scale=10, color='#ee1010', lw=1, zorder=9))
ftext(1326.7, 511.7, '배당락(0.00%)', color='#404040')
fig.add_artist(FancyArrowPatch((fx(1366), fy(519)), (fx(1366), fy(538)), transform=fig.transFigure,
                               arrowstyle='-|>', mutation_scale=10, color='#ee1010', lw=1, zorder=9))
ftext(1245, 551, '최저 12,300 (12/29)', color='#1030e0')
fig.add_artist(FancyArrowPatch((fx(1355), fy(551.5)), (fx(1372), fy(551.5)), transform=fig.transFigure,
                               arrowstyle='-|>', mutation_scale=9, color='#1030e0', lw=1, zorder=9))

fig.savefig('out.png', dpi=DPI)
